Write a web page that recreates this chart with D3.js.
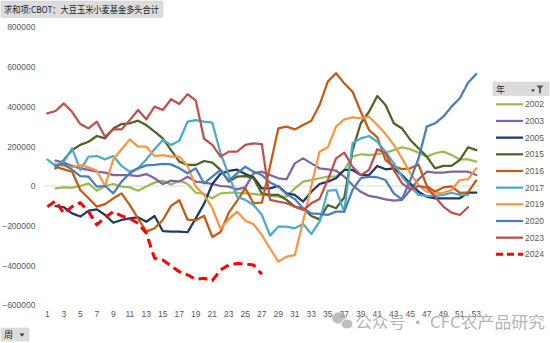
<!DOCTYPE html>
<html>
<head>
<meta charset="utf-8">
<script src="https://cdn.jsdelivr.net/npm/d3@7"></script>
<style>
  body { margin: 0; background: #fff; }
  svg { display: block; }
</style>
</head>
<body>
<svg id="chart" width="550" height="343"></svg>
<script>
// Weekly CBOT soybean + corn + wheat fund long positions (sum), by year
const weeks = [1,2,3,4,5,6,7,8,9,10,11,12,13,14,15,16,17,18,19,20,21,22,23,24,25,26,27,
  28,29,30,31,32,33,34,35,36,37,38,39,40,41,42,43,44,45,46,47,48,49,50,51,52,53];
const weekTicks = [1,3,5,7,9,11,13,15,17,19,21,23,25,27,29,31,33,35,37,39,41,43,45,47,49,51,53];
const valueTicks = [800000,600000,400000,200000,0,-200000,-400000,-600000];
const years = ["2002","2003","2005","2015","2016","2017","2019","2020","2023","2024"];
const yearColors = ["#9BBB59","#8064A2","#1F3864","#4F6228","#C55A11","#4BACC6","#F79646","#4A7EBB","#C0504D","#FF0000"];

const y2002 = [null,-12000,-7000,-8000,0,13000,-24000,0,10000,-3000,-7000,-24000,-3000,17000,27000,7000,27000,10000,-34000,-40000,-62000,-37000,-34000,-34000,-37000,-40000,
  -45000,-50000,-54000,-54000,-12000,22000,30000,39000,47000,47000,81000,148000,160000,156000,161000,168000,181000,195000,185000,168000,148000,165000,173000,156000,134000,134000,123000];
const y2003 = [null,128000,118000,101000,89000,81000,72000,67000,55000,55000,55000,50000,60000,39000,10000,27000,22000,47000,22000,17000,10000,0,-3000,-17000,-7000,64000,
  72000,55000,39000,34000,114000,139000,114000,89000,84000,77000,47000,5000,-29000,-50000,-57000,-67000,-74000,-70000,-20000,34000,72000,67000,67000,72000,72000,72000,55000];
const y2005 = [null,-101000,-107000,-138000,-154000,-124000,-118000,-146000,-185000,-171000,-163000,-158000,-180000,-151000,-227000,-230000,-230000,-233000,-163000,-90000,10000,62000,76000,82000,60000,44000,
  -12000,-12000,0,-37000,-45000,-79000,-29000,10000,22000,39000,81000,81000,55000,55000,101000,84000,89000,55000,13000,-29000,-54000,-62000,-62000,-62000,-62000,-34000,-34000];
const y2015 = [null,89000,131000,181000,207000,223000,252000,240000,290000,312000,316000,329000,307000,274000,240000,181000,123000,106000,106000,126000,118000,81000,22000,47000,50000,39000,
  -37000,-45000,-45000,-70000,-104000,-112000,-151000,-168000,-96000,-112000,-58000,181000,316000,374000,453000,408000,316000,290000,232000,190000,148000,89000,101000,101000,131000,195000,181000];
const y2016 = [null,97000,84000,72000,-20000,-62000,-104000,-91000,-62000,-37000,-96000,-163000,-230000,-213000,-171000,-100000,-72000,-170000,-173000,-150000,-257000,-232000,-134000,-75000,-12000,-87000,
  -84000,100000,290000,299000,285000,307000,329000,408000,526000,568000,517000,475000,374000,282000,245000,131000,99000,85000,89000,108000,0,-29000,-7000,-2000,-35000,-32000,28000];
const y2017 = [134000,101000,123000,190000,81000,148000,151000,134000,151000,101000,72000,89000,134000,185000,232000,207000,228000,324000,332000,324000,319000,165000,55000,-54000,-70000,-96000,
  -145000,-250000,-205000,-205000,-213000,-191000,-242000,-180000,-24000,-20000,-129000,215000,240000,252000,223000,173000,114000,47000,-3000,-45000,-50000,-50000,-45000,-34000,-45000,-45000,null];
const y2019 = [null,111000,101000,94000,106000,94000,77000,0,134000,185000,235000,198000,198000,151000,156000,148000,148000,101000,-3000,-45000,-112000,-216000,-167000,-129000,-175000,-192000,
  -247000,-315000,-381000,-356000,-348000,-180000,0,173000,195000,299000,336000,346000,341000,349000,307000,262000,207000,139000,64000,5000,-29000,-37000,-34000,-20000,30000,34000,89000];
const y2020 = [null,101000,111000,81000,50000,47000,-3000,0,-37000,22000,64000,89000,104000,107000,111000,109000,89000,64000,89000,13000,47000,81000,27000,64000,97000,72000,
  55000,18000,-3000,-41000,-66000,-112000,-138000,-141000,-146000,-129000,-129000,-20000,39000,47000,44000,30000,-37000,-67000,30000,139000,299000,316000,349000,400000,442000,520000,564000];
const y2023 = [366000,378000,416000,374000,312000,290000,324000,248000,285000,285000,332000,383000,336000,400000,383000,437000,413000,463000,430000,238000,207000,148000,173000,173000,207000,215000,
  211000,-70000,-79000,-87000,-104000,-121000,-87000,-65000,30000,139000,168000,97000,55000,81000,185000,165000,81000,13000,-17000,0,-8000,-54000,-104000,-134000,-146000,-107000,null];
const y2024 = [-104000,-76000,-138000,-104000,-84000,-129000,-196000,-158000,-129000,-151000,-163000,-188000,-238000,-364000,-373000,-403000,-432000,-448000,-470000,-465000,-477000,-423000,-398000,-390000,-393000,-398000,
  -445000];

const seriesValues = [y2002,y2003,y2005,y2015,y2016,y2017,y2019,y2020,y2023,y2024];
const series = years.map((yr, i) => ({ year: yr, color: yearColors[i], values: seriesValues[i], dashed: yr === "2024" }));

const svg = d3.select("#chart");
const numFont = "'Liberation Sans', Arial, sans-serif";
const cjkFont = "'Noto Sans CJK SC', 'Noto Sans', sans-serif";

// scales: one band per week, points sit in the middle of each band
const x = d3.scaleBand().domain(weeks).range([43.2, 480.4]).padding(0);
const xc = w => x(w) + x.bandwidth() / 2;
const y = d3.scaleLinear().domain([-600000, 800000]).range([305.1, 27.2]);

// zero reference line
svg.append("line")
  .attr("x1", 43.2).attr("x2", 480.4)
  .attr("y1", y(0)).attr("y2", y(0))
  .attr("stroke", "#D9D9D9").attr("stroke-width", 1);

// value axis labels
const yAxis = d3.axisLeft(y).tickValues(valueTicks).tickSize(0).tickPadding(0).tickFormat(d3.format("d"));
const gy = svg.append("g").attr("transform", "translate(35.5,0)").call(yAxis);
gy.select(".domain").remove();
gy.selectAll("text").attr("fill", "#595959").attr("font-family", numFont).attr("font-size", "8.5px");

// week axis labels
const xAxis = d3.axisBottom(x).tickValues(weekTicks).tickSize(0).tickPadding(0);
const gx = svg.append("g").attr("transform", "translate(0,311)").call(xAxis);
gx.select(".domain").remove();
gx.selectAll("text").attr("fill", "#595959").attr("font-family", numFont).attr("font-size", "8.5px");

// series lines
const line = d3.line()
  .defined(d => d.v !== null && d.v !== undefined)
  .x(d => xc(d.w))
  .y(d => y(d.v));

svg.append("g").selectAll("path")
  .data(series)
  .join("path")
  .attr("d", s => line(s.values.map((v, i) => ({ w: weeks[i], v: v }))))
  .attr("fill", "none")
  .attr("stroke", s => s.color)
  .attr("stroke-width", s => s.dashed ? 3 : 2.25)
  .attr("stroke-linejoin", "round")
  .attr("stroke-linecap", s => s.dashed ? "butt" : "round")
  .attr("stroke-dasharray", s => s.dashed ? "9,5" : null);

// title field button
svg.append("rect").attr("x", 1).attr("y", 1).attr("width", 162).attr("height", 16.5)
  .attr("fill", "#DCDCDC").attr("stroke", "#CFCFCF").attr("stroke-width", 0.5);
svg.append("text").attr("x", 4).attr("y", 13)
  .attr("font-family", cjkFont).attr("font-size", "9.5px").attr("fill", "#222")
  .attr("textLength", 155).attr("lengthAdjust", "spacingAndGlyphs")
  .text("求和项:CBOT：大豆玉米小麦基金多头合计");

// legend header with filter button
const lg = svg.append("g");
lg.append("rect").attr("x", 493).attr("y", 82).attr("width", 56).attr("height", 13.5)
  .attr("fill", "#DCDCDC").attr("stroke", "#CFCFCF").attr("stroke-width", 0.5);
lg.append("text").attr("x", 496).attr("y", 92.5)
  .attr("font-family", cjkFont).attr("font-size", "9px").attr("fill", "#222").text("年");
lg.append("path").attr("d", "M531,89.5 l4,0 l-2,2.5 z").attr("fill", "#333");
lg.append("path").attr("d", "M536.5,85.5 l7,0 l-2.6,3.2 l0,4 l-1.8,1 l0,-5 z").attr("fill", "#555");

const items = lg.selectAll("g.item").data(series).join("g").attr("class", "item")
  .attr("transform", (d, i) => `translate(0,${104.3 + i * 16.67})`);
items.append("line")
  .attr("x1", 496).attr("x2", 523).attr("y1", 0).attr("y2", 0)
  .attr("stroke", d => d.color)
  .attr("stroke-width", d => d.dashed ? 3 : 2.25)
  .attr("stroke-dasharray", d => d.dashed ? "7,4" : null);
items.append("text").attr("x", 525).attr("y", 3)
  .attr("font-family", numFont).attr("font-size", "8.5px").attr("fill", "#595959")
  .text(d => d.year);

// row field button
svg.append("rect").attr("x", 1).attr("y", 328).attr("width", 28).attr("height", 13)
  .attr("fill", "#DCDCDC").attr("stroke", "#CFCFCF").attr("stroke-width", 0.5);
svg.append("text").attr("x", 4).attr("y", 338)
  .attr("font-family", cjkFont).attr("font-size", "9px").attr("fill", "#222").text("周");
svg.append("path").attr("d", "M19.5,333.5 l5,0 l-2.5,3 z").attr("fill", "#333");

// account mark
const wm = svg.append("g").attr("opacity", 0.75);
wm.append("ellipse").attr("cx", 339).attr("cy", 318).attr("rx", 7).attr("ry", 5.8).attr("fill", "#A8A8A8");
wm.append("ellipse").attr("cx", 347).attr("cy", 324).attr("rx", 6).attr("ry", 5).attr("fill", "#A8A8A8").attr("stroke", "#fff").attr("stroke-width", 1);
wm.append("text").attr("x", 355).attr("y", 328)
  .attr("font-family", cjkFont).attr("font-size", "16px").attr("fill", "#9A9A9A")
  .attr("textLength", 190).attr("lengthAdjust", "spacingAndGlyphs")
  .text("公众号 · CFC农产品研究");
</script>
</body>
</html>
